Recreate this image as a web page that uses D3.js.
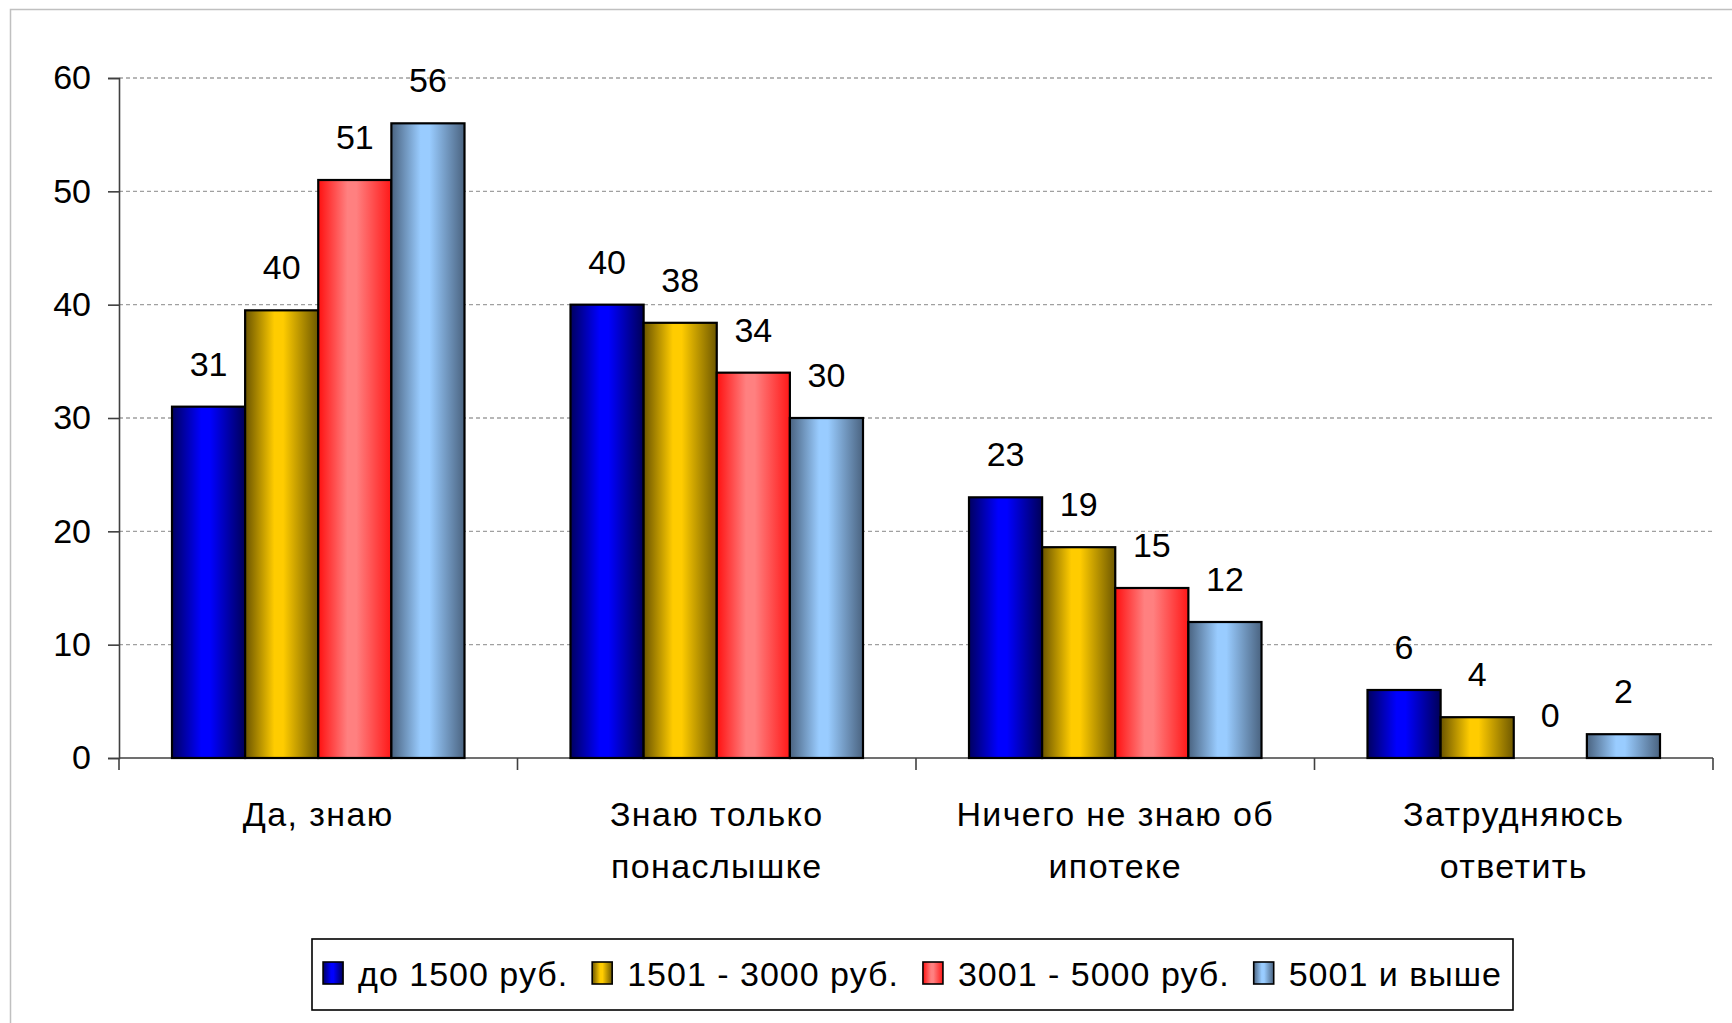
<!DOCTYPE html>
<html>
<head>
<meta charset="utf-8">
<script src="https://cdn.jsdelivr.net/npm/d3@7/dist/d3.min.js"></script>
<style>
  html, body { margin: 0; padding: 0; background: #ffffff; }
  svg { display: block; }
  text { font-family: Arial, "Liberation Sans", sans-serif; fill: #000; }
</style>
</head>
<body>
<svg id="chart" width="1732" height="1023"></svg>
<script>
// ---- data ----
const categories = [["Да, знаю"], ["Знаю только", "понаслышке"], ["Ничего не знаю об", "ипотеке"], ["Затрудняюсь", "ответить"]];
const seriesNames = ["до 1500 руб.", "1501 - 3000 руб.", "3001 - 5000 руб.", "5001 и выше"];
const seriesLow    = [31, 40, 23, 6];
const seriesMid    = [39.5, 38.4, 18.6, 3.6];
const seriesHigh   = [51, 34, 15, 0];
const seriesTop    = [56, 30, 12, 2.1];
const yTicks = [0, 10, 20, 30, 40, 50, 60];

const seriesValues = [seriesLow, seriesMid, seriesHigh, seriesTop];
// gradient stops per series: [edgeLeft, centre, edgeRight]
const seriesColors = [
  ["#000060", "#0000ff", "#000058"],
  ["#6a5400", "#ffcc00", "#6e5800"],
  ["#ff1010", "#ff8080", "#ff1818"],
  ["#4a6380", "#99ccff", "#4a6380"]
];

const svg = d3.select("#chart");
const W = 1732, H = 1023;
const margin = { left: 119, right: W - 1713, top: 78, bottom: H - 758 };

// outer frame (light gray)
svg.append("rect").attr("x", 10.5).attr("y", 9.5).attr("width", W + 20).attr("height", H + 20)
  .attr("fill", "#fff").attr("stroke", "#c0c0c0").attr("stroke-width", 1.5);

const x0 = d3.scaleBand().domain(d3.range(categories.length)).range([margin.left, W - margin.right]).paddingInner(0).paddingOuter(0);
const x1 = d3.scaleBand().domain(d3.range(seriesNames.length)).range([53, x0.bandwidth() - 53]).padding(0);
const y = d3.scaleLinear().domain([0, 60]).range([H - margin.bottom, margin.top]);

// gradients
const defs = svg.append("defs");
seriesColors.forEach((c, i) => {
  const g = defs.append("linearGradient").attr("id", "grad" + i).attr("x1", "0").attr("x2", "1").attr("y1", "0").attr("y2", "0");
  g.append("stop").attr("offset", "0%").attr("stop-color", c[0]);
  g.append("stop").attr("offset", "40%").attr("stop-color", c[1]);
  g.append("stop").attr("offset", "52%").attr("stop-color", c[1]);
  g.append("stop").attr("offset", "100%").attr("stop-color", c[2]);
});

// gridlines
svg.append("g").selectAll("line").data(yTicks.filter(d => d > 0)).join("line")
  .attr("x1", margin.left).attr("x2", W - margin.right)
  .attr("y1", d => y(d)).attr("y2", d => y(d))
  .attr("stroke", "#a0a0a0").attr("stroke-width", 1.3).attr("stroke-dasharray", "4,3");

// y axis
const yAxis = d3.axisLeft(y).tickValues(yTicks).tickSize(11).tickPadding(17).tickFormat(d3.format("d"));
const gy = svg.append("g").attr("transform", `translate(${margin.left},0)`).call(yAxis);
gy.select(".domain").attr("stroke", "#404040").attr("stroke-width", 1.6);
gy.selectAll(".tick line").attr("stroke", "#404040").attr("stroke-width", 1.6);
gy.selectAll(".tick text").attr("font-size", 34).attr("font-family", "Arial, 'Liberation Sans', sans-serif").attr("fill", "#000");

// x axis
const xAxisLine = svg.append("g").attr("transform", `translate(0,${y(0)})`);
xAxisLine.append("line").attr("x1", margin.left).attr("x2", W - margin.right).attr("y1", 0).attr("y2", 0)
  .attr("stroke", "#404040").attr("stroke-width", 1.6);
const tickPos = d3.range(categories.length + 1).map(i => i < categories.length ? x0(i) : x0(categories.length - 1) + x0.bandwidth());
xAxisLine.selectAll("line.tk").data(tickPos).join("line").attr("class", "tk")
  .attr("x1", d => d).attr("x2", d => d).attr("y1", 0).attr("y2", 12)
  .attr("stroke", "#404040").attr("stroke-width", 1.6);

// bars
const groups = svg.append("g").selectAll("g").data(categories).join("g")
  .attr("transform", (d, i) => `translate(${x0(i)},0)`);

groups.each(function (cat, ci) {
  const g = d3.select(this);
  seriesValues.forEach((vals, si) => {
    const v = vals[ci];
    if (v > 0) {
      g.append("rect")
        .attr("x", x1(si)).attr("width", x1.bandwidth())
        .attr("y", y(v)).attr("height", y(0) - y(v))
        .attr("fill", `url(#grad${si})`)
        .attr("stroke", "#000").attr("stroke-width", 2.2);
    }
    g.append("text")
      .attr("x", x1(si) + x1.bandwidth() / 2)
      .attr("y", y(v) - 31)
      .attr("text-anchor", "middle")
      .attr("font-size", 34)
      .text(Math.round(v));
  });
  // category label
  const t = g.append("text").attr("text-anchor", "middle").attr("font-size", 34).attr("letter-spacing", 1.4);
  cat.forEach((line, li) => {
    t.append("tspan").attr("x", x0.bandwidth() / 2).attr("y", y(0) + 68 + li * 52).text(line);
  });
});

// legend
const leg = svg.append("g");
const legBox = leg.append("rect").attr("y", 939).attr("height", 71).attr("fill", "#fff").attr("stroke", "#000").attr("stroke-width", 1.6);
const items = [];
seriesNames.forEach((name, i) => {
  const it = leg.append("g");
  it.append("rect").attr("x", 0).attr("y", 962).attr("width", 20).attr("height", 22)
    .attr("fill", `url(#grad${i})`).attr("stroke", "#000").attr("stroke-width", 1.6);
  const tx = it.append("text").attr("x", 35).attr("y", 986).attr("font-size", 34).attr("letter-spacing", 1).text(name);
  const w = tx.node().getComputedTextLength();
  items.push({ it, w });
});
const totalW = items.reduce((s, d) => s + 35 + d.w, 0) + 24 * (items.length - 1);
const legLeft = 312, legRight = 1513;
let start = (legLeft + legRight) / 2 - totalW / 2;
items.forEach(d => { d.it.attr("transform", `translate(${start},0)`); start += 35 + d.w + 24; });
legBox.attr("x", legLeft).attr("width", legRight - legLeft);
</script>
</body>
</html>
